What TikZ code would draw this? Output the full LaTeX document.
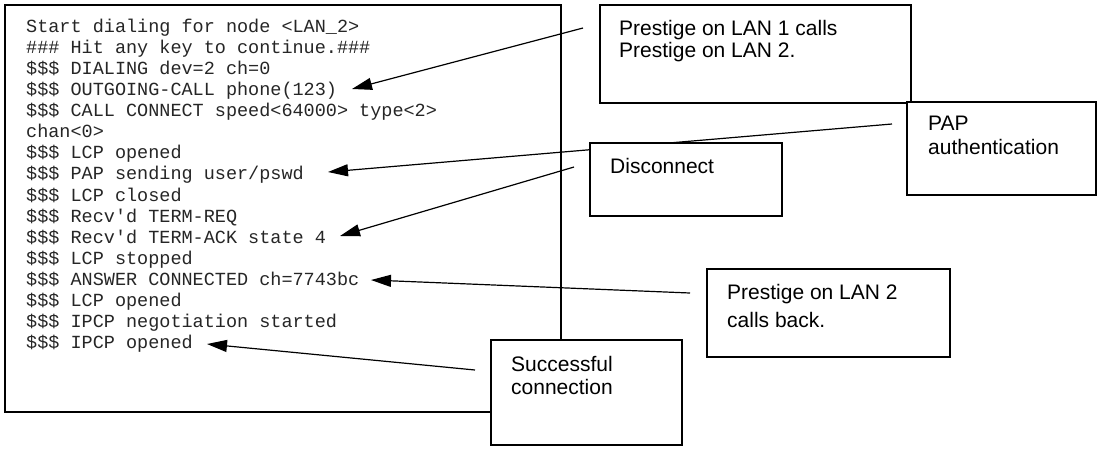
\documentclass[tikz,border=0pt]{standalone}
\usepackage{fontspec}
\setmainfont{Liberation Sans}
\setmonofont{Liberation Mono}
\usetikzlibrary{arrows.meta}
\begin{document}
\begin{tikzpicture}[x=1pt,y=-1pt,
  box/.style={draw=black, line width=1.1pt, fill=white, inner sep=0pt, outer sep=0pt, anchor=north west},
  lbl/.style={font=\fontsize{21}{24}\selectfont, inner sep=0pt, anchor=base west},
  mono/.style={font=\ttfamily\fontsize{18.5}{21}\selectfont, text=black!85, inner sep=0pt, anchor=base west},
  ptr/.style={line width=1.2pt, -{Triangle[length=20pt,width=12pt]}}]
\useasboundingbox (0,0) rectangle (1097,448);
% terminal window
\node[box, line width=2.2pt, minimum width=556pt, minimum height=407pt] (term) at (5,5) {};
\foreach \t [count=\i from 0] in {
  {Start dialing for node <LAN\_2>},
  {\#\#\# Hit any key to continue.\#\#\#},
  {\$\$\$ DIALING dev=2 ch=0},
  {\$\$\$ OUTGOING-CALL phone(123)},
  {\$\$\$ CALL CONNECT speed<64000> type<2>},
  {chan<0>},
  {\$\$\$ LCP opened},
  {\$\$\$ PAP sending user/pswd},
  {\$\$\$ LCP closed},
  {\$\$\$ Recv'd TERM-REQ},
  {\$\$\$ Recv'd TERM-ACK state 4},
  {\$\$\$ LCP stopped},
  {\$\$\$ ANSWER CONNECTED ch=7743bc},
  {\$\$\$ LCP opened},
  {\$\$\$ IPCP negotiation started},
  {\$\$\$ IPCP opened}}
  \node[mono] (l\i) at (26,{32.7+21.04*\i}) {\t};
% connectors
\coordinate (a1s) at (583,28);  \coordinate (a1e) at (352,89);
\coordinate (a2s) at (892,124); \coordinate (a2e) at (328,172);
\coordinate (a3s) at (574,167); \coordinate (a3e) at (340,236);
\coordinate (a4s) at (690,293); \coordinate (a4e) at (371,280);
\coordinate (a5s) at (475,370); \coordinate (a5e) at (207,344);
\draw[ptr] (a1s) -- (a1e);
\draw[ptr] (a2s) -- (a2e);
\draw[ptr] (a3s) -- (a3e);
\draw[ptr] (a4s) -- (a4e);
\draw[ptr] (a5s) -- (a5e);
% callout boxes
\node[box, minimum width=311pt, minimum height=98pt] (b1) at (600,5) {};
\node[box, minimum width=189pt, minimum height=93pt] (pap) at (907,102) {};
\node[box, minimum width=192pt, minimum height=73pt] (disc) at (590,143) {};
\node[box, minimum width=243pt, minimum height=88pt] (lan2) at (707,269) {};
\node[box, minimum width=191pt, minimum height=105pt] (succ) at (491,340) {};
% callout texts
\node[lbl] (t1a) at (619,35) {Prestige on LAN 1 calls};
\node[lbl] (t1b) at (619,57) {Prestige on LAN 2.};
\node[lbl] (tpa) at (928,130) {PAP};
\node[lbl] (tpb) at (928,154) {authentication};
\node[lbl] (td) at (610,173) {Disconnect};
\node[lbl] (tl2a) at (727,299) {Prestige on LAN 2};
\node[lbl] (tl2b) at (727,327) {calls back.};
\node[lbl] (tsa) at (511,371) {Successful};
\node[lbl] (tsb) at (511,394) {connection};
\end{tikzpicture}
\end{document}
